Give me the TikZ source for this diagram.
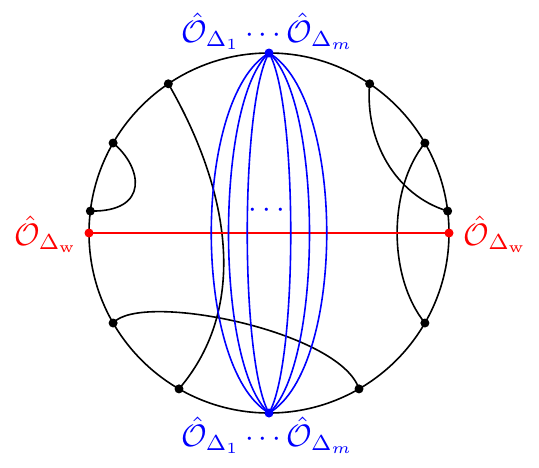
\documentclass[tikz,border=0pt]{standalone}
\usetikzlibrary{calc}
\begin{document}
\begin{tikzpicture}[x=1pt,y=-1pt,
  bdot/.style={circle,fill=black,inner sep=0pt,minimum size=9pt},
  rdot/.style={circle,fill=red,inner sep=0pt,minimum size=9pt},
  bldot/.style={circle,fill=blue,inner sep=0pt,minimum size=9pt},
  chord/.style={black,line width=1.6pt},
  blueline/.style={blue,line width=1.6pt},
  lab/.style={inner sep=0pt,scale=3.1}]
\useasboundingbox (0,0) rectangle (539,467);
\coordinate (C) at (269,233);
\draw[line width=1.6pt] (C) circle (180);
% points on the circle (image angles, y flipped)
\path (C) ++(-124:180) coordinate (a124);
\path (C) ++(-150:180) coordinate (a150);
\path (C) ++(-173:180) coordinate (a173);
\path (C) ++(-180:180) coordinate (a180);
\path (C) ++(0:180) coordinate (a0);
\path (C) ++(-56:180) coordinate (a56);
\path (C) ++(-30:180) coordinate (a30);
\path (C) ++(-7:180) coordinate (a7);
\path (C) ++(30:180) coordinate (am30);
\path (C) ++(60:180) coordinate (am60);
\path (C) ++(120:180) coordinate (am120);
\path (C) ++(150:180) coordinate (am150);
\path (C) ++(-90:180) coordinate (top);
\path (C) ++(90:180) coordinate (bot);
% black connectors
\draw[chord] (a124) .. controls +(60,104) and +(71.5,-83.6) .. (am120);
\draw[chord] (a150) .. controls +(29,24) and +(60,1) .. (a173);
\draw[chord] (a56) .. controls +(-5,56) and +(-53,-16) .. (a7);
\draw[chord] (a30) .. controls +(-37,46) and +(-37,-46) .. (am30);
\draw[chord] (am150) .. controls +(28,-32) and +(-19,-58) .. (am60);
% red line
\draw[red,line width=1.25pt] (a180) -- (a0);
% blue curves
\foreach \c/\h in {77/45,54/48,29/50}{
  \draw[blueline] (top) .. controls +(-\c,\h) and +(-\c,-\h) .. (bot);
  \draw[blueline] (top) .. controls +(\c,\h) and +(\c,-\h) .. (bot);
}
% dots
\foreach \p in {a124,a150,a173,a56,a30,a7,am30,am60,am120,am150}
  \node[bdot] at (\p) {};
\node[rdot] (rl) at (a180) {};
\node[rdot] (rr) at (a0) {};
\node[bldot] (bt) at (top) {};
\node[bldot] (bb) at (bot) {};
% labels
\node[lab,anchor=base,text=blue] (lt) at (267.5,42) {$\hat{\mathcal{O}}_{\Delta_1}\cdots\hat{\mathcal{O}}_{\Delta_m}$};
\node[lab,anchor=base,text=blue] (lb) at (267.5,446) {$\hat{\mathcal{O}}_{\Delta_1}\cdots\hat{\mathcal{O}}_{\Delta_m}$};
\node[lab,anchor=base east,text=red] (ll) at (78,245) {$\hat{\mathcal{O}}_{\Delta_{\mathrm{w}}}$};
\node[lab,anchor=base west,text=red] (lr) at (463,245) {$\hat{\mathcal{O}}_{\Delta_{\mathrm{w}}}$};
\node[lab,text=blue] (md) at (267,211) {$\cdots$};
\end{tikzpicture}
\end{document}
